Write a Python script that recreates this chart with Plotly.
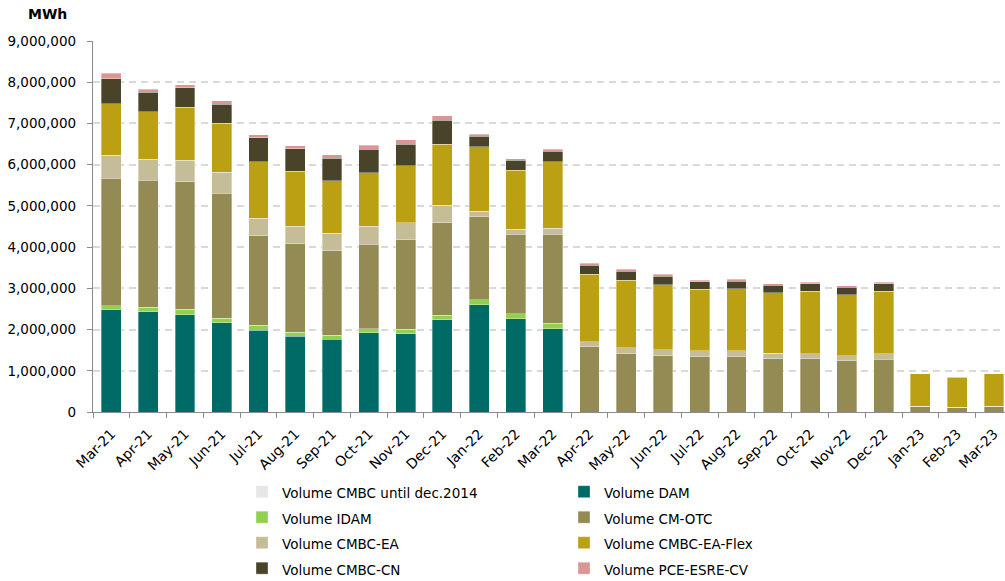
import plotly.graph_objects as go

months = ["Mar-21", "Apr-21", "May-21", "Jun-21", "Jul-21", "Aug-21", "Sep-21", "Oct-21",
          "Nov-21", "Dec-21", "Jan-22", "Feb-22", "Mar-22", "Apr-22", "May-22", "Jun-22",
          "Jul-22", "Aug-22", "Sep-22", "Oct-22", "Nov-22", "Dec-22", "Jan-23", "Feb-23", "Mar-23"]

vol_until_2014 = [0] * 25
vol_dam = [2478000, 2437000, 2365000, 2171000, 1985000, 1840000, 1759000, 1919000, 1895000,
           2234000, 2605000, 2266000, 2016000, 0, 0, 0, 0, 0, 0, 0, 0, 0, 0, 0, 0]
vol_idam = [97000, 105000, 129000, 105000, 122000, 97000, 105000, 105000, 113000, 113000,
            113000, 113000, 137000, 0, 0, 0, 0, 0, 0, 0, 0, 0, 0, 0, 0]
vol_cm_otc = [3100000, 3084000, 3091000, 3035000, 2163000, 2139000, 2042000, 2049000, 2169000,
              2250000, 2016000, 1936000, 2162000, 1581000, 1419000, 1363000, 1339000, 1339000,
              1290000, 1290000, 1242000, 1282000, 136000, 112000, 136000]
vol_cmbc_ea = [557000, 500000, 525000, 508000, 435000, 428000, 436000, 435000, 412000, 419000,
               137000, 120000, 145000, 121000, 137000, 145000, 145000, 145000, 137000, 121000,
               121000, 129000, 5000, 5000, 5000]
vol_cmbc_ea_flex = [1251000, 1154000, 1283000, 1187000, 1364000, 1331000, 1267000, 1290000,
                    1379000, 1476000, 1564000, 1428000, 1613000, 1637000, 1638000, 1573000,
                    1492000, 1508000, 1468000, 1524000, 1484000, 1524000, 787000, 731000, 787000]
vol_cmbc_cn = [597000, 476000, 476000, 460000, 581000, 549000, 549000, 573000, 532000, 581000,
               259000, 242000, 258000, 226000, 225000, 217000, 185000, 185000, 178000, 178000,
               177000, 178000, 5000, 3000, 5000]
vol_pce = [137000, 73000, 73000, 89000, 81000, 81000, 81000, 97000, 105000, 112000, 48000,
           40000, 48000, 40000, 41000, 41000, 41000, 41000, 40000, 40000, 41000, 40000, 0, 0, 0]

series = [
    ("Volume CMBC until dec.2014", vol_until_2014, "#E6E6E6"),
    ("Volume DAM", vol_dam, "#006A66"),
    ("Volume IDAM", vol_idam, "#92D050"),
    ("Volume CM-OTC", vol_cm_otc, "#948A54"),
    ("Volume CMBC-EA", vol_cmbc_ea, "#C4BD97"),
    ("Volume CMBC-EA-Flex", vol_cmbc_ea_flex, "#BBA014"),
    ("Volume CMBC-CN", vol_cmbc_cn, "#494429"),
    ("Volume PCE-ESRE-CV", vol_pce, "#D99694"),
]

FONT = "DejaVu Sans, Verdana, sans-serif"

fig = go.Figure()
for name, vals, color in series:
    fig.add_trace(go.Bar(
        x=months, y=vals,
        name='<span style="font-size:13.5px">' + name + '</span>',
        marker=dict(color=color, line=dict(color="rgba(255,255,255,0.45)", width=0.75)),
    ))

fig.update_layout(
    width=1005, height=581,
    barmode="stack", bargap=0.46,
    plot_bgcolor="white", paper_bgcolor="white",
    font=dict(family=FONT, size=13.5, color="#000000"),
    margin=dict(l=93, r=0, t=41, b=169, autoexpand=False),
    showlegend=True,
    legend=dict(
        orientation="h", traceorder="normal",
        x=0.1634, xanchor="left", y=-0.167, yanchor="top",
        entrywidth=277, entrywidthmode="pixels",
        font=dict(family=FONT, size=17.3, color="#000000"),
        bgcolor="rgba(0,0,0,0)",
    ),
    xaxis=dict(
        type="category", range=[-0.5, 24.3],
        tickson="boundaries", ticks="outside", ticklen=5, tickcolor="#8C8C8C",
        showline=True, linecolor="#8C8C8C", linewidth=1.3,
        tickangle=-45, tickfont=dict(family=FONT, size=14, color="#000000"),
        ticklabelstandoff=7,
        showgrid=False, automargin=False,
    ),
    yaxis=dict(
        range=[0, 9000000], dtick=1000000, tickformat=",d",
        ticks="outside", ticklen=5, tickcolor="#8C8C8C",
        showline=True, linecolor="#8C8C8C", linewidth=1.3,
        showgrid=True, gridcolor="#D9D9D9", gridwidth=1.5, griddash="7px,5px",
        zeroline=False,
        tickfont=dict(family=FONT, size=13.5, color="#000000"),
        ticklabelstandoff=8,
        automargin=False,
    ),
    annotations=[dict(
        text="<b>MWh</b>", xref="paper", yref="paper", x=0, y=1,
        xanchor="right", yanchor="bottom", xshift=-24, yshift=17,
        showarrow=False, font=dict(family=FONT, size=14, color="#000000"),
    )],
)

fig.write_html(
    "out.html",
    config={"displayModeBar": False},
    post_script="document.body.style.margin='0';document.body.style.padding='0';",
)
